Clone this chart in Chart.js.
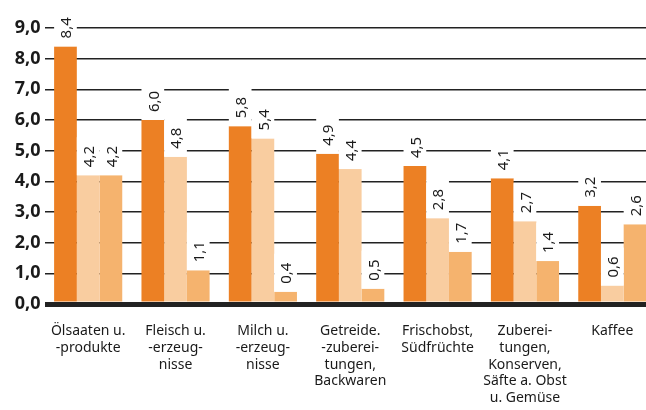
<!DOCTYPE html>
<html><head><meta charset="utf-8">
<script src="https://cdn.jsdelivr.net/npm/chart.js@4/dist/chart.umd.min.js"></script>
<style>html,body{margin:0;padding:0;overflow:hidden;background:#fff;width:646px;height:410px}</style>
</head><body>
<canvas id="c" width="660" height="410"></canvas>
<script>
const categories = [
  ["Ölsaaten u.", "-produkte"],
  ["Fleisch u.", "-erzeug-", "nisse"],
  ["Milch u.", "-erzeug-", "nisse"],
  ["Getreide.", "-zuberei-", "tungen,", "Backwaren"],
  ["Frischobst,", "Südfrüchte"],
  ["Zuberei-", "tungen,", "Konserven,", "Säfte a. Obst", "u. Gemüse"],
  ["Kaffee"]
];
const series1 = [8.4, 6.0, 5.8, 4.9, 4.5, 4.1, 3.2];
const series2 = [4.2, 4.8, 5.4, 4.4, 2.8, 2.7, 0.6];
const series3 = [4.2, 1.1, 0.4, 0.5, 1.7, 1.4, 2.6];
const yTicks = [0,1,2,3,4,5,6,7,8,9];

const fmt = v => v.toFixed(1).replace('.', ',');

const labelPlugin = {
  id: 'valLabels',
  afterDatasetsDraw(chart) {
    const ctx = chart.ctx;
    ctx.save();
    chart.data.datasets.forEach((ds, di) => {
      const meta = chart.getDatasetMeta(di);
      meta.data.forEach((bar, i) => {
        const w = bar.width;
        const left = bar.x - w / 2;
        ctx.fillStyle = '#fff';
        ctx.fillRect(left, bar.y - 38, w, 38);
        ctx.save();
        ctx.translate(bar.x + 1.5, bar.y - 8);
        ctx.rotate(-Math.PI / 2);
        ctx.fillStyle = '#1a1a1a';
        ctx.font = '15px "Noto Sans"';
        ctx.textAlign = 'left';
        ctx.textBaseline = 'middle';
        ctx.fillText(fmt(ds.data[i]), 0, 0);
        ctx.restore();
      });
    });
    ctx.restore();
  }
};

new Chart(document.getElementById('c'), {
  type: 'bar',
  data: {
    labels: categories,
    datasets: [
      { data: series1, backgroundColor: '#EC8024' },
      { data: series2, backgroundColor: '#F9CDA0' },
      { data: series3, backgroundColor: '#F5B36E' }
    ]
  },
  options: {
    responsive: false,
    animation: false,
    devicePixelRatio: 1,
    layout: { padding: { left: 0, right: 4, top: 28, bottom: 0 } },
    datasets: { bar: { categoryPercentage: 0.78, barPercentage: 1 } },
    plugins: { legend: { display: false }, tooltip: { enabled: false } },
    scales: {
      x: {
        grid: { display: false, drawTicks: false },
        border: { display: false },
        ticks: {
          color: '#1a1a1a',
          font: { family: 'Noto Sans', size: 14, lineHeight: 1.19 },
          padding: 19,
          maxRotation: 0,
          autoSkip: false
        },
        afterFit(a) { a.height = 106; }
      },
      y: {
        min: 0, max: 9,
        afterBuildTicks(a) { a.ticks = yTicks.map(v => ({ value: v })); },
        grid: {
          color: '#222',
          lineWidth: c => c.tick && c.tick.value === 0 ? 5 : 1.5,
          drawTicks: false
        },
        border: { display: false },
        ticks: {
          color: '#1a1a1a',
          font: { family: 'Noto Sans', size: 18, weight: 'bold' },
          padding: 4,
          callback: v => fmt(v)
        },
        afterFit(a) { a.width = 44.5; }
      }
    }
  },
  plugins: [labelPlugin]
});
</script>
</body></html>
